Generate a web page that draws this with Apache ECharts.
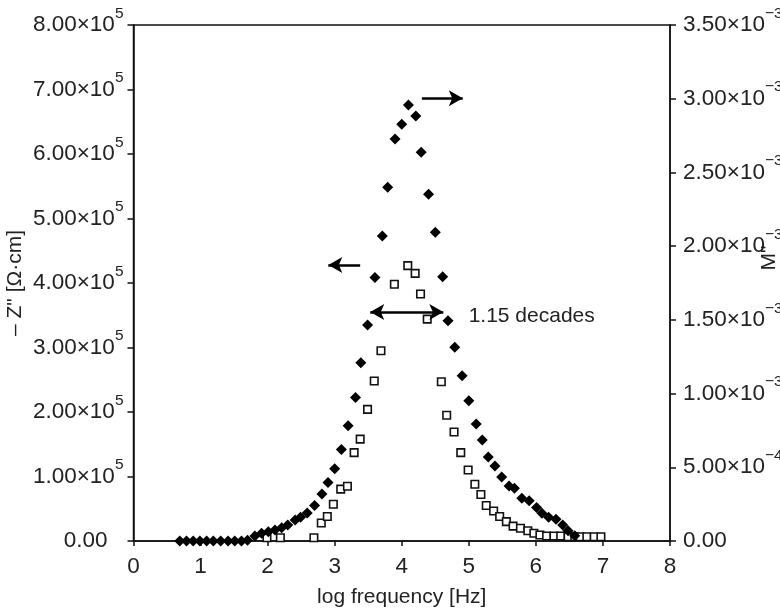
<!DOCTYPE html>
<html>
<head>
<meta charset="utf-8">
<script src="https://cdn.jsdelivr.net/npm/echarts@6/dist/echarts.min.js"></script>
<style>html,body{margin:0;padding:0;background:#fff}#c{width:780px;height:611px}</style>
</head>
<body>
<div id="c"></div>
<script>
// M'' (filled diamonds, right axis), values in units of 10^-3
const freqM = [0.69,0.79,0.89,0.99,1.09,1.19,1.30,1.41,1.51,1.61,1.70,1.81,1.91,2.01,2.11,2.21,2.30,2.41,2.49,2.59,2.70,2.81,2.90,3.00,3.10,3.20,3.31,3.39,3.49,3.60,3.71,3.79,3.90,4.00,4.10,4.21,4.29,4.40,4.50,4.61,4.69,4.79,4.90,5.00,5.11,5.20,5.29,5.39,5.49,5.60,5.68,5.79,5.90,6.01,6.09,6.19,6.30,6.40,6.48,6.58];
const mE3   = [0,0,0,0,0,0,0,0,0,0,0.005,0.034,0.052,0.063,0.075,0.090,0.109,0.142,0.161,0.190,0.240,0.319,0.397,0.490,0.620,0.781,0.973,1.209,1.465,1.788,2.069,2.399,2.727,2.826,2.957,2.883,2.637,2.352,2.094,1.793,1.494,1.314,1.121,0.952,0.794,0.685,0.570,0.509,0.434,0.373,0.357,0.290,0.273,0.228,0.188,0.161,0.147,0.109,0.070,0.036];
// -Z'' (open squares, left axis), values in Ohm*cm
const freqZ = [1.99,2.19,2.69,2.80,2.89,2.98,3.09,3.19,3.29,3.38,3.49,3.59,3.69,3.89,4.09,4.20,4.28,4.38,4.59,4.67,4.78,4.88,4.99,5.09,5.18,5.26,5.37,5.46,5.56,5.66,5.77,5.88,5.97,6.06,6.16,6.27,6.37,6.48,6.58,6.66,6.76,6.87,6.97];
const zVal  = [5000,5000,5000,28000,38000,57000,80500,85000,137000,158000,204000,248000,295000,398000,427000,415000,383000,344000,247000,195000,169000,137000,110000,88000,72000,55000,46500,38000,30000,23000,19700,16000,12000,9300,7800,7800,7800,6700,6700,6700,6700,6700,6700];
// annotations: [x0, x1, M''(1e-3)]
const arrowRight = [4.30, 4.91, 3.003];
const arrowLeft  = [3.38, 2.905, 1.872];
const arrowBoth  = [3.53, 4.62, 1.553];
const spanLabel  = {x: 4.99, m: 1.528, text: '1.15 decades'};

const FONT = 'Liberation Sans, Arial, sans-serif';
const TC = '#222';
const FS = 21;    // titles / annotation
const TFS = 22.5; // tick labels
const chart = echarts.init(document.getElementById('c'), null, {renderer: 'canvas'});

function leftFmt(v) {
  if (v === 0) return '{z|0.00}';
  return '{m|' + (v / 1e5).toFixed(2) + '×10}{s|5}';
}
function rightFmt(v) {
  if (Math.abs(v) < 1e-9) return '{m|0.00}';
  if (v < 1 - 1e-9) return '{m|' + (v * 10).toFixed(2) + '×10}{s|−4}';
  return '{m|' + v.toFixed(2) + '×10}{s|−3}';
}
const richBase = {
  m: {fontSize: TFS, fontFamily: FONT, color: TC},
  s: {fontSize: 15.5, fontFamily: FONT, color: TC, padding: [0, 0, 23, 0]},
  z: {fontSize: TFS, fontFamily: FONT, color: TC, padding: [0, 16, 0, 0]}
};
const axisLine = {show: true, lineStyle: {color: '#111', width: 1.5}};
const axisTick = {show: true, inside: false, length: 6, lineStyle: {color: '#111', width: 1.5}};

const arrowLine = (a, sym) => [{coord: [a[0], a[2]], symbol: sym[0]}, {coord: [a[1], a[2]], symbol: sym[1]}];

chart.setOption({
  animation: false,
  backgroundColor: '#fff',
  grid: {left: 133.5, right: 110, top: 25, bottom: 70, show: true, borderColor: '#111', borderWidth: 1.5, outerBoundsMode: 'none', containLabel: false},
  xAxis: {
    type: 'value', min: 0, max: 8, interval: 1,
    name: 'log frequency [Hz]', nameLocation: 'middle', nameGap: 46, nameMoveOverlap: false,
    nameTextStyle: {fontSize: FS, fontFamily: FONT, color: TC},
    axisLine, axisTick: Object.assign({}, axisTick, {length: 5}),
    axisLabel: {margin: 14, fontSize: TFS, fontFamily: FONT, color: TC},
    splitLine: {show: false}
  },
  yAxis: [{
    type: 'value', min: 0, max: 800000, interval: 100000, position: 'left',
    name: '– Z" [Ω·cm]', nameLocation: 'middle', nameGap: 108, nameRotate: 90, nameMoveOverlap: false,
    nameTextStyle: {fontSize: FS, fontFamily: FONT, color: TC},
    axisLine, axisTick,
    axisLabel: {margin: 10, formatter: leftFmt, rich: richBase},
    splitLine: {show: false}
  }, {
    type: 'value', min: 0, max: 3.5, interval: 0.5, position: 'right',
    name: 'M"', nameLocation: 'middle', nameGap: 89, nameRotate: 90, nameMoveOverlap: false,
    nameTextStyle: {fontSize: FS, fontFamily: FONT, color: TC, padding: [0, 0, 0, 50]},
    axisLine, axisTick,
    axisLabel: {margin: 13, formatter: rightFmt, rich: richBase},
    splitLine: {show: false}
  }],
  series: [{
    type: 'scatter', name: '-Z"', yAxisIndex: 0, z: 2,
    data: freqZ.map((f, i) => [f, zVal[i]]),
    symbol: 'rect', symbolSize: 7.5,
    itemStyle: {color: '#fff', borderColor: '#111', borderWidth: 1.6, opacity: 1}
  }, {
    type: 'scatter', name: 'M"', yAxisIndex: 1, z: 3,
    data: freqM.map((f, i) => [f, mE3[i]]),
    symbol: 'diamond', symbolSize: 11,
    itemStyle: {color: '#000', opacity: 1},
    markLine: {
      silent: true, animation: false,
      symbolSize: [12, 14],
      lineStyle: {color: '#000', width: 2.6, type: 'solid'},
      label: {show: false},
      emphasis: {disabled: true},
      data: [
        arrowLine(arrowRight, ['none', 'arrow']),
        arrowLine(arrowLeft, ['none', 'arrow']),
        arrowLine(arrowBoth, ['arrow', 'arrow'])
      ]
    },
    markPoint: {
      silent: true, animation: false,
      symbol: 'circle', symbolSize: 1,
      itemStyle: {color: 'rgba(0,0,0,0)'},
      label: {show: true, position: 'right', distance: 0, formatter: spanLabel.text, fontSize: FS, fontFamily: FONT, color: TC},
      data: [{coord: [spanLabel.x, spanLabel.m]}]
    }
  }]
});
</script>
</body>
</html>
